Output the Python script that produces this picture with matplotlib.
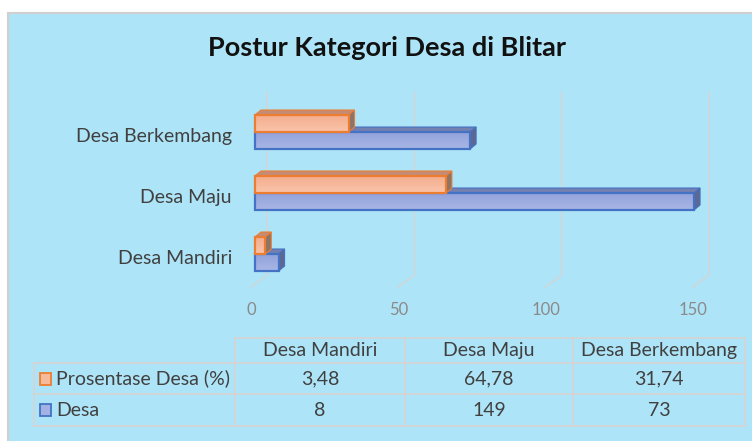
import numpy as np
import matplotlib.pyplot as plt
from matplotlib.patches import Polygon, Rectangle
from matplotlib.lines import Line2D
from matplotlib.colors import LinearSegmentedColormap

categories = ["Desa Mandiri", "Desa Maju", "Desa Berkembang"]
desa = [8, 149, 73]
prosentase = [3.48, 64.78, 31.74]
prosentase_labels = ["3,48", "64,78", "31,74"]
desa_labels = ["8", "149", "73"]
series_names = ["Prosentase Desa (%)", "Desa"]
xticks = [0, 50, 100, 150]
title = "Postur Kategori Desa di Blitar"

W, H = 752, 441
plt.rcParams['font.family'] = ['Lato', 'DejaVu Sans']
fig = plt.figure(figsize=(W / 100, H / 100), dpi=100)


def fx(x):
    return x / W


def fy(y):
    return 1 - y / H


bg = '#AEE4F7'
txt = '#404040'
grid_c = '#D4D4D4'
fig.patches.append(Rectangle((fx(8), -0.1), 1.0, fy(13) + 0.1, transform=fig.transFigure,
                             facecolor=bg, edgecolor='#D0D0D0', lw=1.5, zorder=-10))

fig.text(fx(387), fy(48), title, ha='center', va='center', fontsize=19.5,
         fontweight='bold', color='#111111')

ax = fig.add_axes([fx(255), fy(290), (697 - 255) / W, 200 / H])

px_x = (697 - 255) / 150.0
px_y = 61.0
dx = 6 / px_x
dy = 5 / px_y
bar_h = 17 / px_y

# back gridlines with floor diagonals
for v in xticks:
    ax.add_line(Line2D([v - 4 / px_x, v + 12 / px_x, v + 12 / px_x],
                       [-0.541, -0.344, 2.656], color=grid_c, lw=1.0,
                       clip_on=False, zorder=1))
    ax.text(v - 4 / px_x, -0.918, str(v), ha='center', va='center',
            fontsize=12, color='#8A8A8A', clip_on=False)

grad = np.linspace(0, 1, 32).reshape(-1, 1)


def bar3d(y0, v, front, top, side, edge, z):
    ax.add_patch(Polygon([(0, y0 + bar_h), (v, y0 + bar_h), (v + dx, y0 + bar_h + dy),
                          (dx, y0 + bar_h + dy)], closed=True, fc=top, ec=edge, lw=0.8,
                         clip_on=False, zorder=z))
    ax.add_patch(Polygon([(v, y0), (v, y0 + bar_h), (v + dx, y0 + bar_h + dy),
                          (v + dx, y0 + dy)], closed=True, fc=side, ec=edge, lw=0.8,
                         clip_on=False, zorder=z))
    cmap = LinearSegmentedColormap.from_list('g', front)
    ax.imshow(grad, cmap=cmap, extent=(0, v, y0 + bar_h, y0), aspect='auto',
              origin='upper', interpolation='bilinear', clip_on=False, zorder=z + 0.5)
    ax.add_patch(Rectangle((0, y0), v, bar_h, fc='none', ec=edge, lw=1.6,
                           clip_on=False, zorder=z + 1))


for i, cat in enumerate(categories):
    bar3d(i - bar_h, desa[i], ['#A8B6E5', '#93A3DB'], '#7480B0', '#5C6792', '#4472C4', 2)
    bar3d(i, prosentase[i], ['#F9C4AA', '#F4AD8E'], '#C58C75', '#8B7468', '#ED7D31', 4)
    ax.text(-23 / px_x, i - 0.07, cat, ha='right', va='center', fontsize=14,
            color=txt, clip_on=False)

ax.set_xlim(0, 150)
ax.set_ylim(-0.59, 2.689)
ax.axis('off')

# data table
cols = [34, 235, 405, 573, 745]
rows = [338, 363, 394, 426]


def hline(y, x0, x1):
    fig.add_artist(Line2D([fx(x0), fx(x1)], [fy(y), fy(y)], color=grid_c, lw=1.3,
                          transform=fig.transFigure))


def vline(x, y0, y1):
    fig.add_artist(Line2D([fx(x), fx(x)], [fy(y0), fy(y1)], color=grid_c, lw=1.3,
                          transform=fig.transFigure))


hline(rows[0], cols[1], cols[-1])
for y in rows[1:]:
    hline(y, cols[0], cols[-1])
vline(cols[0], rows[1], rows[-1])
for x in cols[1:]:
    vline(x, rows[0], rows[-1])

for j, cat in enumerate(categories):
    cx = (cols[j + 1] + cols[j + 2]) / 2
    fig.text(fx(cx), fy((rows[0] + rows[1]) / 2), cat, ha='center', va='center',
             fontsize=14, color=txt)
    fig.text(fx(cx), fy((rows[1] + rows[2]) / 2), prosentase_labels[j], ha='center',
             va='center', fontsize=14, color=txt)
    fig.text(fx(cx), fy((rows[2] + rows[3]) / 2), desa_labels[j], ha='center',
             va='center', fontsize=14, color=txt)

keys = [('#F7BB9C', '#ED7D31'), ('#A3B2E2', '#4472C4')]
for k, name in enumerate(series_names):
    cy = (rows[k + 1] + rows[k + 2]) / 2
    fig.patches.append(Rectangle((fx(40), fy(cy + 6)), 11 / W, 12 / H,
                                 transform=fig.transFigure, fc=keys[k][0],
                                 ec=keys[k][1], lw=1.3))
    fig.text(fx(56), fy(cy), name, ha='left', va='center', fontsize=14, color=txt)

fig.savefig('out.png', dpi=100)
